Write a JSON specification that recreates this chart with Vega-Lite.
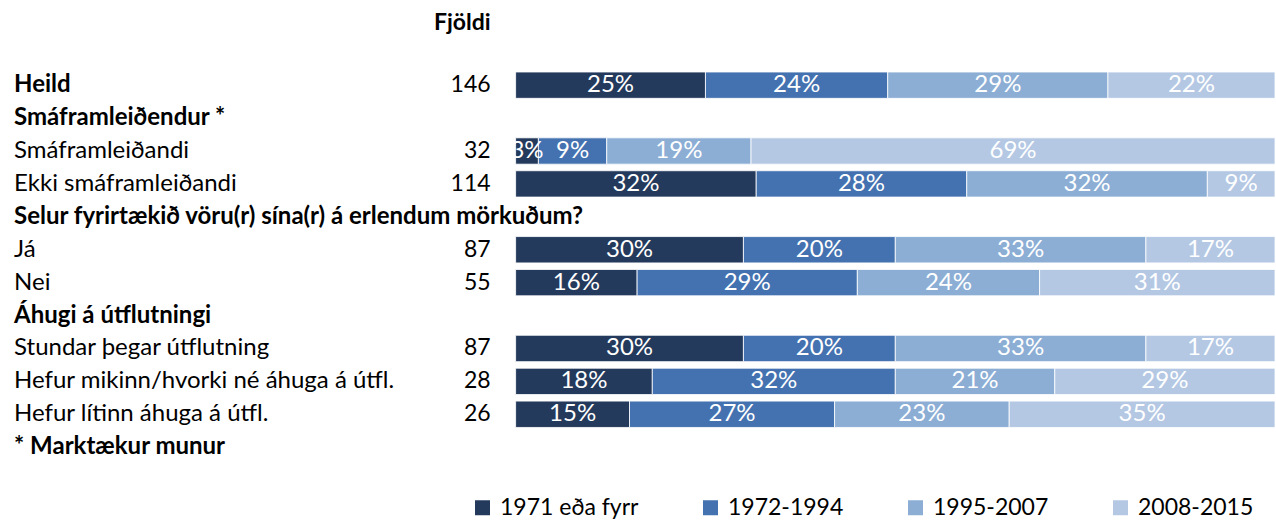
{
  "$schema": "https://vega.github.io/schema/vega-lite/v6.json",
  "width": 1276,
  "height": 520,
  "padding": 0,
  "autosize": {"type": "fit", "contains": "padding"},
  "background": "white",
  "config": {"view": {"stroke": null}, "font": "Lato"},
  "datasets": {
    "rows": [
      {"row": "Heild", "type": "group", "n": 146},
      {"row": "Smáframleiðendur *", "type": "group"},
      {"row": "Smáframleiðandi", "type": "item", "n": 32},
      {"row": "Ekki smáframleiðandi", "type": "item", "n": 114},
      {"row": "Selur fyrirtækið vöru(r) sína(r) á erlendum mörkuðum?", "type": "group"},
      {"row": "Já", "type": "item", "n": 87},
      {"row": "Nei", "type": "item", "n": 55},
      {"row": "Áhugi á útflutningi", "type": "group"},
      {"row": "Stundar þegar útflutning", "type": "item", "n": 87},
      {"row": "Hefur mikinn/hvorki né áhuga á útfl.", "type": "item", "n": 28},
      {"row": "Hefur lítinn áhuga á útfl.", "type": "item", "n": 26},
      {"row": "* Marktækur munur", "type": "group"}
    ],
    "shares": [
      {"row": "Heild", "period": "1971 eða fyrr", "share": 0.25},
      {"row": "Heild", "period": "1972-1994", "share": 0.24},
      {"row": "Heild", "period": "1995-2007", "share": 0.29},
      {"row": "Heild", "period": "2008-2015", "share": 0.22},
      {"row": "Smáframleiðandi", "period": "1971 eða fyrr", "share": 0.03},
      {"row": "Smáframleiðandi", "period": "1972-1994", "share": 0.09},
      {"row": "Smáframleiðandi", "period": "1995-2007", "share": 0.19},
      {"row": "Smáframleiðandi", "period": "2008-2015", "share": 0.69},
      {"row": "Ekki smáframleiðandi", "period": "1971 eða fyrr", "share": 0.32},
      {"row": "Ekki smáframleiðandi", "period": "1972-1994", "share": 0.28},
      {"row": "Ekki smáframleiðandi", "period": "1995-2007", "share": 0.32},
      {"row": "Ekki smáframleiðandi", "period": "2008-2015", "share": 0.09},
      {"row": "Já", "period": "1971 eða fyrr", "share": 0.30},
      {"row": "Já", "period": "1972-1994", "share": 0.20},
      {"row": "Já", "period": "1995-2007", "share": 0.33},
      {"row": "Já", "period": "2008-2015", "share": 0.17},
      {"row": "Nei", "period": "1971 eða fyrr", "share": 0.16},
      {"row": "Nei", "period": "1972-1994", "share": 0.29},
      {"row": "Nei", "period": "1995-2007", "share": 0.24},
      {"row": "Nei", "period": "2008-2015", "share": 0.31},
      {"row": "Stundar þegar útflutning", "period": "1971 eða fyrr", "share": 0.30},
      {"row": "Stundar þegar útflutning", "period": "1972-1994", "share": 0.20},
      {"row": "Stundar þegar útflutning", "period": "1995-2007", "share": 0.33},
      {"row": "Stundar þegar útflutning", "period": "2008-2015", "share": 0.17},
      {"row": "Hefur mikinn/hvorki né áhuga á útfl.", "period": "1971 eða fyrr", "share": 0.18},
      {"row": "Hefur mikinn/hvorki né áhuga á útfl.", "period": "1972-1994", "share": 0.32},
      {"row": "Hefur mikinn/hvorki né áhuga á útfl.", "period": "1995-2007", "share": 0.21},
      {"row": "Hefur mikinn/hvorki né áhuga á útfl.", "period": "2008-2015", "share": 0.29},
      {"row": "Hefur lítinn áhuga á útfl.", "period": "1971 eða fyrr", "share": 0.15},
      {"row": "Hefur lítinn áhuga á útfl.", "period": "1972-1994", "share": 0.27},
      {"row": "Hefur lítinn áhuga á útfl.", "period": "1995-2007", "share": 0.23},
      {"row": "Hefur lítinn áhuga á útfl.", "period": "2008-2015", "share": 0.35}
    ]
  },
  "encoding": {
    "y": {
      "field": "row",
      "type": "nominal",
      "axis": null,
      "scale": {
        "domain": ["hdr", "gap", "Heild", "Smáframleiðendur *", "Smáframleiðandi", "Ekki smáframleiðandi", "Selur fyrirtækið vöru(r) sína(r) á erlendum mörkuðum?", "Já", "Nei", "Áhugi á útflutningi", "Stundar þegar útflutning", "Hefur mikinn/hvorki né áhuga á útfl.", "Hefur lítinn áhuga á útfl.", "* Marktækur munur"],
        "paddingInner": 0.2,
        "paddingOuter": 1.2634,
        "align": 0.094
      }
    }
  },
  "layer": [
    {
      "data": {"name": "shares"},
      "mark": {"type": "bar", "stroke": "white", "strokeWidth": 0.8},
      "encoding": {
        "x": {"field": "share", "type": "quantitative", "stack": "normalize", "axis": null, "scale": {"domain": [-0.679, 1], "nice": false, "zero": false}},
        "order": {"field": "period", "type": "nominal", "sort": "ascending"},
        "color": {
          "field": "period",
          "type": "nominal",
          "scale": {"domain": ["1971 eða fyrr", "1972-1994", "1995-2007", "2008-2015"], "range": ["#243A5C", "#4472B0", "#8CAED5", "#B4C8E4"]},
          "legend": {
            "orient": "none",
            "legendX": 471,
            "legendY": 496,
            "direction": "horizontal",
            "columns": 4,
            "title": null,
            "padding": 0,
            "symbolType": "square",
            "symbolSize": 225,
            "symbolStrokeWidth": 0,
            "labelFont": "Lato",
            "labelFontSize": 23,
            "labelColor": "#000000",
            "labelOffset": 6,
            "columnPadding": 60,
            "labelLimit": 400
          }
        }
      }
    },
    {
      "data": {"name": "shares"},
      "mark": {"type": "text", "color": "white", "font": "Lato", "fontSize": 24, "baseline": "middle", "align": "center"},
      "encoding": {
        "x": {"field": "share", "type": "quantitative", "stack": "normalize", "bandPosition": 0.5},
        "order": {"field": "period", "type": "nominal", "sort": "ascending"},
        "detail": {"field": "period", "type": "nominal"},
        "text": {"field": "share", "type": "quantitative", "format": ".0%"}
      }
    },
    {
      "data": {"name": "rows"},
      "transform": [{"filter": "datum.type === 'group'"}],
      "mark": {"type": "text", "align": "left", "baseline": "middle", "font": "Lato", "fontSize": 24, "fontWeight": "bold", "color": "#000000"},
      "encoding": {
        "x": {"datum": -0.6605, "type": "quantitative"},
        "text": {"field": "row"}
      }
    },
    {
      "data": {"name": "rows"},
      "transform": [{"filter": "datum.type === 'item'"}],
      "mark": {"type": "text", "align": "left", "baseline": "middle", "font": "Lato", "fontSize": 24, "color": "#000000"},
      "encoding": {
        "x": {"datum": -0.6605, "type": "quantitative"},
        "text": {"field": "row"}
      }
    },
    {
      "data": {"name": "rows"},
      "transform": [{"filter": "isValid(datum.n)"}],
      "mark": {"type": "text", "align": "right", "baseline": "middle", "font": "Lato", "fontSize": 23, "color": "#000000"},
      "encoding": {
        "x": {"datum": -0.0329, "type": "quantitative"},
        "text": {"field": "n", "type": "quantitative"}
      }
    },
    {
      "data": {"values": [{"label": "Fjöldi"}]},
      "mark": {"type": "text", "align": "right", "baseline": "middle", "font": "Lato", "fontSize": 23, "fontWeight": "bold", "color": "#000000", "dy": 4},
      "encoding": {
        "x": {"datum": -0.0329, "type": "quantitative"},
        "y": {"datum": "hdr", "type": "nominal"},
        "text": {"field": "label"}
      }
    }
  ]
}
